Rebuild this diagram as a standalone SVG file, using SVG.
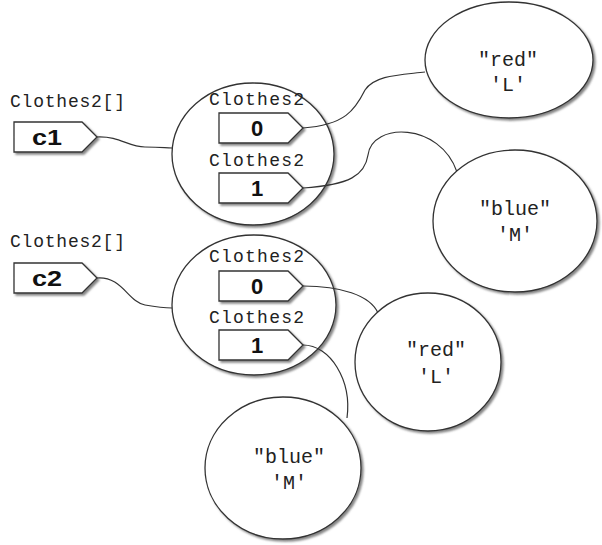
<svg xmlns="http://www.w3.org/2000/svg" width="602" height="545" viewBox="0 0 602 545">
<defs>
<filter id="sh" x="-10%" y="-10%" width="130%" height="130%"><feDropShadow dx="2" dy="2" stdDeviation="1" flood-color="#666" flood-opacity="0.8"/></filter>
<style>
.ell{fill:#fff;stroke:#333;stroke-width:1.3;filter:url(#sh)}
.box{fill:#fff;stroke:#333;stroke-width:1.3;filter:url(#sh)}
.con{fill:none;stroke:#333;stroke-width:1.2}
.mono{font-family:"Liberation Mono","DejaVu Sans Mono",monospace;font-size:18px;fill:#222}
.lbl{font-family:"Liberation Sans",Arial,sans-serif;font-size:22px;font-weight:bold;fill:#111;text-anchor:middle}
.val{font-family:"Liberation Mono","DejaVu Sans Mono",monospace;font-size:20px;fill:#222;text-anchor:middle}
</style>
</defs>
<rect width="602" height="545" fill="#fff"/>

<g id="c1">
<text class="mono" x="10" y="107" textLength="115">Clothes2[]</text>
<polygon class="box" points="14,122 82,122 97,137 82,152 14,152"/>
<text class="lbl" x="47" y="145" textLength="30" lengthAdjust="spacingAndGlyphs">c1</text>
</g>
<g id="arr1">
<ellipse class="ell" cx="253" cy="154" rx="81" ry="71"/>
<text class="mono" x="209" y="105" textLength="95">Clothes2</text>
<polygon class="box" points="219,113 288,113 303,128 288,143 219,143"/>
<text class="lbl" x="257" y="136">0</text>
<text class="mono" x="209" y="166" textLength="95">Clothes2</text>
<polygon class="box" points="219,173 288,173 303,188 288,203 219,203"/>
<text class="lbl" x="257" y="196">1</text>
</g>

<g id="c2">
<text class="mono" x="10" y="247" textLength="115">Clothes2[]</text>
<polygon class="box" points="14,263 82,263 97,278 82,293 14,293"/>
<text class="lbl" x="47" y="286" textLength="30" lengthAdjust="spacingAndGlyphs">c2</text>
</g>
<g id="arr2">
<ellipse class="ell" cx="254" cy="305" rx="82" ry="70"/>
<text class="mono" x="209" y="262" textLength="95">Clothes2</text>
<polygon class="box" points="219,271 288,271 303,286 288,301 219,301"/>
<text class="lbl" x="257" y="294">0</text>
<text class="mono" x="209" y="323" textLength="95">Clothes2</text>
<polygon class="box" points="219,330 288,330 303,345 288,360 219,360"/>
<text class="lbl" x="257" y="353">1</text>
</g>

<g id="connectors">
<path class="con" d="M97,137 C120,136 128,147 145,147 S165,148 172,148"/>
<path class="con" d="M97,278 C122,276 128,302 145,305 S165,308 172,308"/>
<path class="con" d="M303,128 C345,125 355,110 365,90 C375,75 400,75 425,72"/>
<path class="con" d="M303,188 C350,185 365,175 368,155 C372,122 440,122 457,172"/>
<path class="con" d="M303,286 C340,286 370,295 378,313"/>
<path class="con" d="M303,345 C330,345 352,380 347,418"/>
</g>

<g id="red1">
<ellipse class="ell" cx="509" cy="60" rx="84" ry="58"/>
<text class="val" x="508" y="66">"red"</text>
<text class="val" x="508" y="91">'L'</text>
</g>
<g id="blue1">
<ellipse class="ell" cx="515" cy="221" rx="82" ry="71"/>
<text class="val" x="515" y="215">"blue"</text>
<text class="val" x="515" y="241">'M'</text>
</g>
<g id="red2">
<ellipse class="ell" cx="428" cy="362" rx="73" ry="69"/>
<text class="val" x="436" y="356">"red"</text>
<text class="val" x="436" y="383">'L'</text>
</g>
<g id="blue2">
<ellipse class="ell" cx="283" cy="468" rx="78" ry="71"/>
<text class="val" x="289" y="463">"blue"</text>
<text class="val" x="289" y="489">'M'</text>
</g>
</svg>
